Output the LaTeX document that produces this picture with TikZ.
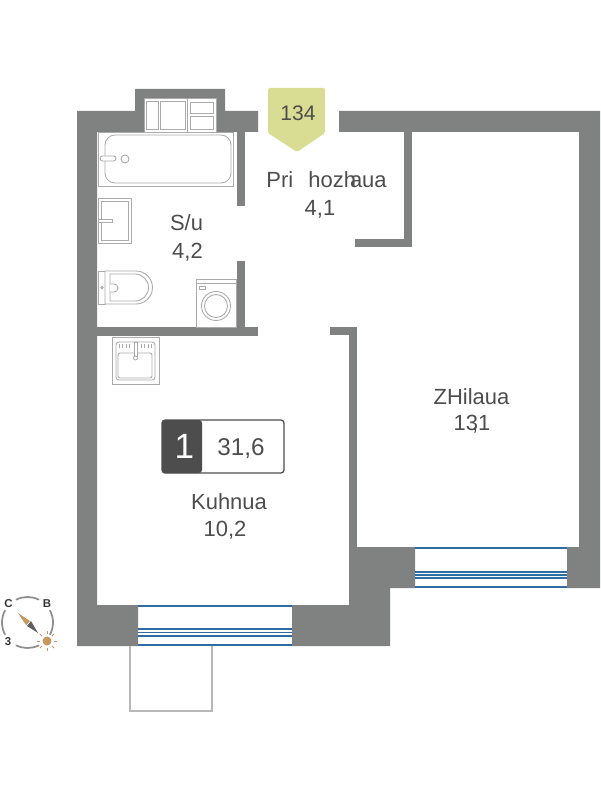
\documentclass[tikz,border=0pt]{standalone}
\usepackage{fontspec}
\setmainfont{Liberation Sans}
\usepackage{tikz}
\usetikzlibrary{positioning}
\definecolor{wallgray}{HTML}{808281}
\definecolor{inkgray}{HTML}{4D4D4D}
\definecolor{fixgray}{HTML}{ABABAB}
\definecolor{glassblue}{HTML}{2E6DA4}
\definecolor{badgegreen}{HTML}{D9DD94}
\definecolor{suntan}{HTML}{C8965F}
\tikzstyle{wall} = [fill=wallgray, draw=none]
\tikzstyle{fixture} = [draw=fixgray, line width=0.5pt, fill=white]
\tikzstyle{glass} = [draw=glassblue, line width=0.7pt]
\tikzstyle{room} = [text=inkgray, font=\fontsize{12.5}{15}\selectfont, inner sep=0pt]
\tikzstyle{compassmark} = [text=inkgray!70!black, font=\fontsize{6.5}{7}\selectfont\bfseries, inner sep=0pt]
\tikzstyle{dial} = [draw=wallgray!90, line width=1pt, line cap=round]
\begin{document}
\begin{tikzpicture}[x=0.02cm,y=-0.02cm]
        \useasboundingbox (0,0) rectangle (600,800);
        % walls
        \fill [wall] (77,111) -- (135,111) -- (135,89) -- (225,89) -- (225,111) -- (258,111) -- (258,132) -- (97,132) -- (97,605) -- (138,605) -- (138,646) -- (77,646) -- cycle;
        \fill [wall] (339,111) -- (600,111) -- (600,588) -- (567,588) -- (567,547) -- (579,547) -- (579,132) -- (339,132) -- cycle;
        \fill [wall] (292,605) -- (349,605) -- (349,547) -- (415,547) -- (415,588) -- (390,588) -- (390,646) -- (292,646) -- cycle;
        \fill [wall] (237,132) rectangle (245,206);
        \fill [wall] (237,261) rectangle (245,336);
        \fill [wall] (97,327) rectangle (258,336);
        \fill [wall] (404,132) rectangle (412,247);
        \fill [wall] (355,239) rectangle (412,247);
        \fill [wall] (330,327) rectangle (357,335);
        \fill [wall] (349,327) rectangle (357,547);
        % windows
        \foreach \y in {606,629,632.5,636,645}
            \draw [glass] (138,\y) -- (292,\y);
        \foreach \y in {548,572,575,578,587}
            \draw [glass] (415,\y) -- (567,\y);
        % balcony
        \draw [draw=black!28, line width=0.7pt] (130,646) -- (130,711) -- (212,711) -- (212,646);
        % cabinet
        \draw [fixture] (144,98) rectangle (187,132);
        \draw [fixture] (187,98) rectangle (216,132);
        \draw [fixture] (146,101) rectangle (158,129);
        \draw [fixture] (160,101) rectangle (185,129);
        \draw [fixture] (190,102) rectangle (213,113);
        \draw [fixture] (190,116) rectangle (213,129);
        % bath
        \draw [fixture] (98,132) rectangle (233,186);
        \draw [fixture, rounded corners=0.2cm] (105,135) rectangle (231,183);
        \draw [fixture, rounded corners=0.05cm] (100,156) rectangle (116,161);
        \draw [fixture] (125,159) circle [radius=0.08cm];
        % wash basin
        \draw [fixture] (98,198) rectangle (131,243);
        \draw [fixture] (101,201) rectangle (128,240);
        \draw [fixture] (98,219) rectangle (112,222);
        % toilet
        \draw [fixture] (98,271) rectangle (105,304);
        \draw [fixture] (105,271) -- (136,271) arc [start angle=90, end angle=-90, radius=0.33cm] -- (105,304) -- cycle;
        \draw [fixture] (110,274) -- (135,274) arc [start angle=90, end angle=-90, radius=0.27cm] -- (110,301) -- cycle;
        \draw [fixture] (110,284) -- (114,284) arc [start angle=90, end angle=-90, radius=0.08cm] -- (110,292);
        \draw [fixture] (102,287.5) circle [radius=0.025cm];
        % washing machine
        \draw [fixture] (196,279) rectangle (236,327);
        \draw [fixture] (196,283) -- (236,283);
        \draw [fixture] (199,286) rectangle (205,289);
        \draw [fixture] (216,306) circle [radius=0.29cm];
        \draw [fixture] (216,306) circle [radius=0.23cm];
        % kitchen sink
        \draw [fixture] (112,337) rectangle (159,384);
        \draw [fixture, rounded corners=0.06cm] (116,342) rectangle (155,380);
        \draw [fixture, rounded corners=0.04cm] (118,353) rectangle (152,378);
        \foreach \x in {119,122.5,126,129.5,141,144.5,148,151.5}
            \draw [draw=fixgray, line width=0.5pt] (\x,344) -- (\x,348);
        \draw [fixture] (134,342) rectangle (137,356);
        \draw [fixture] (135.5,358) circle [radius=0.04cm];
        % badge
        \fill [badgegreen, rounded corners=0.03cm] (268,88) -- (325,88) -- (325,133) -- (297,152) -- (268,133) -- cycle;
        \node (flatnumber) [text=inkgray, font=\fontsize{12}{14}\selectfont, inner sep=0pt] at (298,113) {134};
        % labels of the rooms
        \node (hallfirst) [room, anchor=base west] at (266,188) {Pri};
        \node (hallsecond) [room, anchor=base west] at (308,188) {hozh};
        \node (hallthird) [room, anchor=base east] at (387,188) {aua};
        \node (hallarea) [room] at (320,209) {4,1};
        \node (bathname) [room] at (186.5,223) {S/u};
        \node (batharea) [room] at (187.5,252) {4,2};
        \node (livingname) [room] at (471.5,397) {ZHilaua};
        \node (livingarea) [room] at (472,424) {13\llap{,}1};
        \node (kitchenname) [room] at (229,502) {Kuhnua};
        \node (kitchenarea) [room] at (225,530) {10,2};
        % plate
        \draw [draw=inkgray, line width=0.7pt, fill=white, rounded corners=0.06cm] (162,420) rectangle (284,473);
        \fill [inkgray, rounded corners=0.06cm] (162,420) -- (202,420) -- (202,473) -- (162,473) -- cycle;
        \node (roomcount) [text=white, font=\fontsize{20}{22}\selectfont, inner sep=0pt] at (184.5,446.5) {1};
        \node (totalarea) [text=inkgray, font=\fontsize{13.8}{16}\selectfont, inner sep=0pt] at (241,449) {31,6};
        % compass
        \coordinate (dialcentre) at (27.5,622.5);
        \draw [dial] ([shift={(64:0.51cm)}]dialcentre) arc [start angle=64, end angle=116, radius=0.51cm];
        \draw [dial] ([shift={(152:0.51cm)}]dialcentre) arc [start angle=152, end angle=208, radius=0.51cm];
        \draw [dial] ([shift={(244:0.51cm)}]dialcentre) arc [start angle=244, end angle=296, radius=0.51cm];
        \draw [dial] ([shift={(-28:0.51cm)}]dialcentre) arc [start angle=-28, end angle=28, radius=0.51cm];
        \fill [suntan] (18,613) -- (30,621) -- (26,625) -- cycle;
        \fill [inkgray!90] (38,633) -- (31,621) -- (27,626) -- cycle;
        \coordinate (suncentre) at (47,641);
        \fill [suntan] (suncentre) circle [radius=0.09cm];
        \foreach \a in {0,45,...,315}
            \draw [draw=suntan, line width=0.5pt] ([shift={(\a:0.14cm)}]suncentre) -- ([shift={(\a:0.2cm)}]suncentre);
        \node (northmark) [compassmark] at (8.5,604) {C};
        \node (eastmark) [compassmark] at (47,604) {B};
        \node (westmark) [compassmark] at (8,642) {3};
\end{tikzpicture}
\end{document}
